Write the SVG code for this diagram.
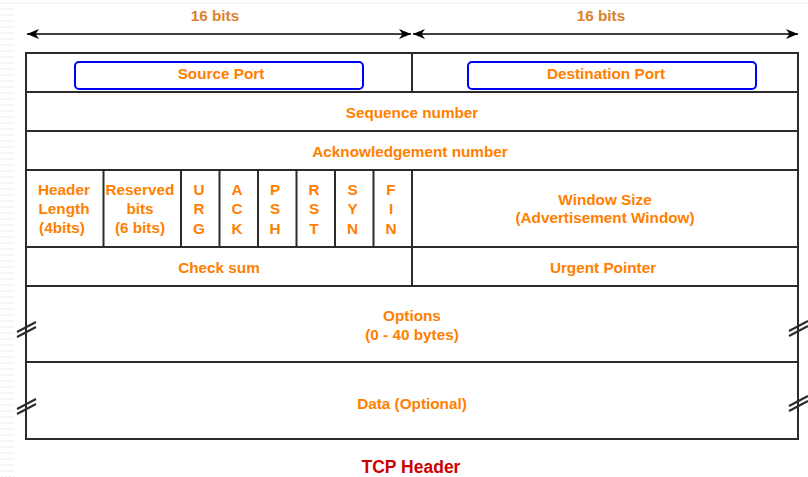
<svg xmlns="http://www.w3.org/2000/svg" width="808" height="477" viewBox="0 0 808 477">
  <defs>
    <style>
      .grid { fill: none; stroke: #2b2b2b; stroke-width: 2; }
      .port { fill: none; stroke: #0000ff; stroke-width: 2; }
      .lbl { font-family: "Liberation Sans", Arial, sans-serif; font-weight: bold; font-size: 15.3px; fill: #ff8000; text-anchor: middle; }
      .bits { font-family: "Liberation Sans", Arial, sans-serif; font-weight: bold; font-size: 15.3px; fill: #d9822b; text-anchor: middle; }
      .title { font-family: "Liberation Sans", Arial, sans-serif; font-weight: bold; font-size: 17.5px; fill: #cc0000; text-anchor: middle; }
      .dim { stroke: #000; stroke-width: 1.5; fill: none; }
      .brk { stroke: #2b2b2b; stroke-width: 2; }
    </style>
    <marker id="ah" viewBox="0 0 12 10" refX="12" refY="5" markerWidth="12" markerHeight="10" markerUnits="userSpaceOnUse" orient="auto-start-reverse">
      <path d="M0,0 L12,5 L0,10 L3.5,5 Z" fill="#000"/>
    </marker>
    <pattern id="wave" width="8" height="6" patternUnits="userSpaceOnUse">
      <path d="M0,4 L2,2 L4,4 L6,2 L8,4" fill="none" stroke="#ececec" stroke-width="1"/>
    </pattern>
  </defs>

  <rect width="808" height="477" fill="#ffffff"/>
  <!-- soft texture along the page edges -->
  <rect x="0" y="0" width="14" height="477" fill="url(#wave)"/>
  <rect x="14" y="0" width="794" height="6" fill="url(#wave)"/>

  <!-- width dimensions -->
  <g id="dims">
    <line class="dim" x1="27" y1="34" x2="411" y2="34" marker-start="url(#ah)" marker-end="url(#ah)"/>
    <line class="dim" x1="413" y1="34" x2="798" y2="34" marker-start="url(#ah)" marker-end="url(#ah)"/>
    <text class="bits" x="215" y="21">16 bits</text>
    <text class="bits" x="601" y="21">16 bits</text>
  </g>

  <!-- header fields -->
  <g id="frame">
    <rect class="grid" x="26" y="53" width="772" height="386"/>
    <line class="grid" x1="26" y1="92" x2="798" y2="92"/>
    <line class="grid" x1="26" y1="131" x2="798" y2="131"/>
    <line class="grid" x1="26" y1="170" x2="798" y2="170"/>
    <line class="grid" x1="26" y1="247" x2="798" y2="247"/>
    <line class="grid" x1="26" y1="286" x2="798" y2="286"/>
    <line class="grid" x1="26" y1="362" x2="798" y2="362"/>
    <line class="grid" x1="412" y1="53" x2="412" y2="92"/>
    <line class="grid" x1="412" y1="170" x2="412" y2="286"/>
    <line class="grid" x1="103.5" y1="170" x2="103.5" y2="247"/>
    <line class="grid" x1="181" y1="170" x2="181" y2="247"/>
    <line class="grid" x1="219.5" y1="170" x2="219.5" y2="247"/>
    <line class="grid" x1="258" y1="170" x2="258" y2="247"/>
    <line class="grid" x1="296.5" y1="170" x2="296.5" y2="247"/>
    <line class="grid" x1="335" y1="170" x2="335" y2="247"/>
    <line class="grid" x1="373.5" y1="170" x2="373.5" y2="247"/>
  </g>

  <g id="source-port">
    <rect class="port" x="75" y="62" width="288" height="27" rx="4"/>
    <text class="lbl" x="221" y="79">Source Port</text>
  </g>
  <g id="destination-port">
    <rect class="port" x="468" y="62" width="288" height="27" rx="4"/>
    <text class="lbl" x="606" y="79">Destination Port</text>
  </g>
  <g id="sequence-number">
    <text class="lbl" x="412" y="118">Sequence number</text>
  </g>
  <g id="ack-number">
    <text class="lbl" x="410" y="157">Acknowledgement number</text>
  </g>
  <g id="header-length">
    <text class="lbl" x="64" y="195">Header</text>
    <text class="lbl" x="64" y="214">Length</text>
    <text class="lbl" x="62" y="233">(4bits)</text>
  </g>
  <g id="reserved">
    <text class="lbl" x="140" y="195">Reserved</text>
    <text class="lbl" x="140" y="214">bits</text>
    <text class="lbl" x="140" y="233">(6 bits)</text>
  </g>
  <g id="urg">
    <text class="lbl" x="199" y="195">U</text>
    <text class="lbl" x="199" y="214">R</text>
    <text class="lbl" x="199" y="234">G</text>
  </g>
  <g id="ack">
    <text class="lbl" x="237" y="195">A</text>
    <text class="lbl" x="237" y="214">C</text>
    <text class="lbl" x="237" y="234">K</text>
  </g>
  <g id="psh">
    <text class="lbl" x="275" y="195">P</text>
    <text class="lbl" x="275" y="214">S</text>
    <text class="lbl" x="275" y="234">H</text>
  </g>
  <g id="rst">
    <text class="lbl" x="314" y="195">R</text>
    <text class="lbl" x="314" y="214">S</text>
    <text class="lbl" x="314" y="234">T</text>
  </g>
  <g id="syn">
    <text class="lbl" x="352.5" y="195">S</text>
    <text class="lbl" x="352.5" y="214">Y</text>
    <text class="lbl" x="352.5" y="234">N</text>
  </g>
  <g id="fin">
    <text class="lbl" x="391" y="195">F</text>
    <text class="lbl" x="391" y="214">I</text>
    <text class="lbl" x="391" y="234">N</text>
  </g>
  <g id="window-size">
    <text class="lbl" x="605" y="205">Window Size</text>
    <text class="lbl" x="605" y="223">(Advertisement Window)</text>
  </g>
  <g id="checksum">
    <text class="lbl" x="219" y="273">Check sum</text>
  </g>
  <g id="urgent-pointer">
    <text class="lbl" x="603" y="273">Urgent Pointer</text>
  </g>
  <g id="options">
    <text class="lbl" x="412" y="321">Options</text>
    <text class="lbl" x="412" y="340">(0 - 40 bytes)</text>
  </g>
  <g id="data">
    <text class="lbl" x="412" y="409">Data (Optional)</text>
  </g>

  <!-- variable-length break marks -->
  <g id="breaks">
    <line class="brk" x1="17" y1="332" x2="36" y2="322"/>
    <line class="brk" x1="17" y1="337" x2="36" y2="327"/>
    <line class="brk" x1="17" y1="409" x2="36" y2="399"/>
    <line class="brk" x1="17" y1="414" x2="36" y2="404"/>
    <line class="brk" x1="789" y1="331" x2="808" y2="321"/>
    <line class="brk" x1="789" y1="336" x2="808" y2="326"/>
    <line class="brk" x1="789" y1="406" x2="808" y2="396"/>
    <line class="brk" x1="789" y1="411" x2="808" y2="401"/>
  </g>

  <text class="title" x="411" y="473">TCP Header</text>
</svg>
